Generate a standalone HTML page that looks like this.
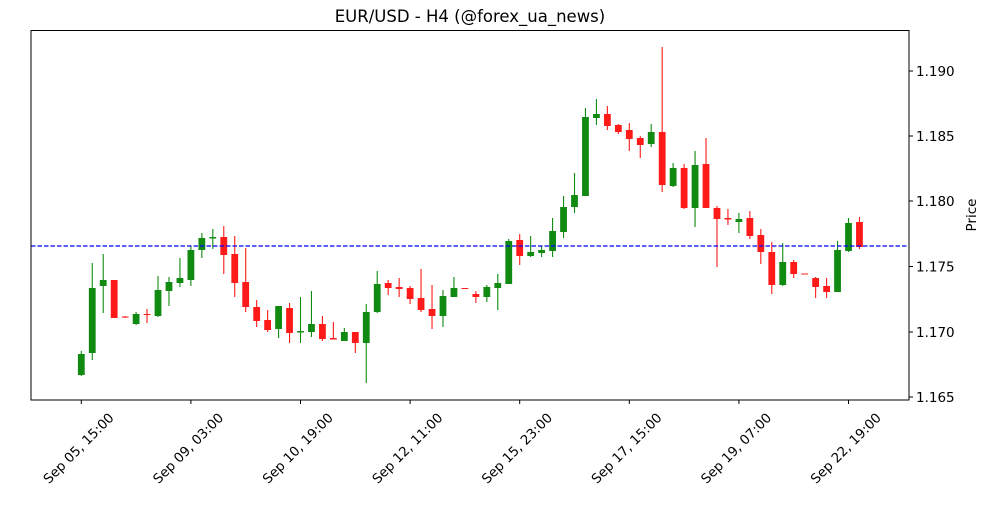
<!DOCTYPE html>
<html><head><meta charset="utf-8"><style>
html,body{margin:0;padding:0;background:#fff;}
svg text{font-family:"DejaVu Sans","Liberation Sans",sans-serif;}
</style></head><body>
<svg id="s" width="1000" height="500" xmlns="http://www.w3.org/2000/svg">
<rect width="1000" height="500" fill="#fff"/>
<text x="470" y="22" font-size="16.5" text-anchor="middle">EUR/USD - H4 (@forex_ua_news)</text>
<g id="c"></g>
<line x1="31" y1="246" x2="909" y2="246" stroke="#0000ff" stroke-width="1.2" stroke-dasharray="4.5,2"/>
<rect x="31" y="30.5" width="878" height="369.5" fill="none" stroke="#000" stroke-width="1"/>
<g id="ax"></g>
<text transform="translate(976,215) rotate(-90)" font-size="13.5" text-anchor="middle">Price</text>
</svg>
<script>
var d=[
[1,354,375,351,376],[1,288,353,263,360],[1,280,286,254,313],[0,280,318,280,318],[0,316.5,317.5,316,318],
[1,314,324,312,325],[0,314,315,309,323],[1,290,316,276,317],[1,282,291,277,306],[1,278,283,258,287],
[1,250,280,246,286],[1,238,250,233,258],[1,237,238.5,229,249],[0,237,255,226,274],[0,254,283,236,297],
[0,282,307,248,312],[0,307,321,300,327],[0,320,330,310,332],[1,306,329,306,338],[0,308,333,303,343],
[1,331,332.5,297,343],[1,324,332,291,337],[0,324,339,316,341],[0,338,339.5,322,339],[1,332,341,328,341],
[0,332,343,332,353],[1,312,343,304,383],[1,284,312,271,313],[0,283,288,280,295],[0,287,289,278,297],
[0,288,299,286,304],[0,298,310,269,312],[0,309,316,285,329],[1,296,316,290,327],[1,288,297,277,297],
[0,288,289,288,289],[0,294,297,291,303],[1,287,297,285,302],[1,283,288,274,310],[1,241,284,239,284],
[0,240,256,234,265],[1,252,256,236,257],[1,250,253,246,257],[1,231,251,218,257],[1,207,232,196,238],
[1,195,207,173,213],[1,117,196,108,196],[1,114,118,99,125],[0,114,126,106,130],[0,125,132,124,134],
[0,130,139,123,151],[0,138,145,136,158],[1,132,144,124,147],[0,132,185,47,192],[1,168,186,163,187],
[0,168,208,164,209],[1,165,208,151,227],[0,164,208,138,208],[0,208,219,206,267],[0,218,219.5,209,225],
[1,219,222,213,233],[0,218,236,211,239],[0,235,252,229,264],[0,252,285,242,294],[1,262,285,243,286],
[0,262,274,260,278],[0,273.5,274.5,273.5,274.5],[0,278,287,277,298],[0,286,292,278,298],[1,250,292,241,292],
[1,223,251,218,252],[0,222,247,217,249]];
var h='';
d.forEach(function(c,i){var x=81.3+10.96*i;var col=c[0]?'#118a11':'#ff1a1a';
h+='<line x1="'+x+'" x2="'+x+'" y1="'+c[3]+'" y2="'+c[4]+'" stroke="'+col+'" stroke-width="1.1"/>';
var hh=Math.max(c[2]-c[1],1);
h+='<rect x="'+(x-3.4)+'" y="'+c[1]+'" width="6.8" height="'+hh+'" fill="'+col+'"/>';});
document.getElementById('c').innerHTML=h;
var a='';
var yt=[[397,'1.165'],[332,'1.170'],[266.5,'1.175'],[201,'1.180'],[136,'1.185'],[71,'1.190']];
yt.forEach(function(t){a+='<line x1="909" x2="913" y1="'+t[0]+'" y2="'+t[0]+'" stroke="#000"/>';
a+='<text x="916" y="'+(t[0]+5)+'" font-size="13.5">'+t[1]+'</text>';});
var xl=['Sep 05, 15:00','Sep 09, 03:00','Sep 10, 19:00','Sep 12, 11:00','Sep 15, 23:00','Sep 17, 15:00','Sep 19, 07:00','Sep 22, 19:00'];
xl.forEach(function(t,i){var x=81.3+109.6*i;
a+='<line x1="'+x+'" x2="'+x+'" y1="400" y2="404" stroke="#000"/>';
a+='<text transform="translate('+(x-2)+',449) rotate(-45)" font-size="13.3" text-anchor="middle" dominant-baseline="central">'+t+'</text>';});
document.getElementById('ax').innerHTML=a;
</script>
</body></html>
